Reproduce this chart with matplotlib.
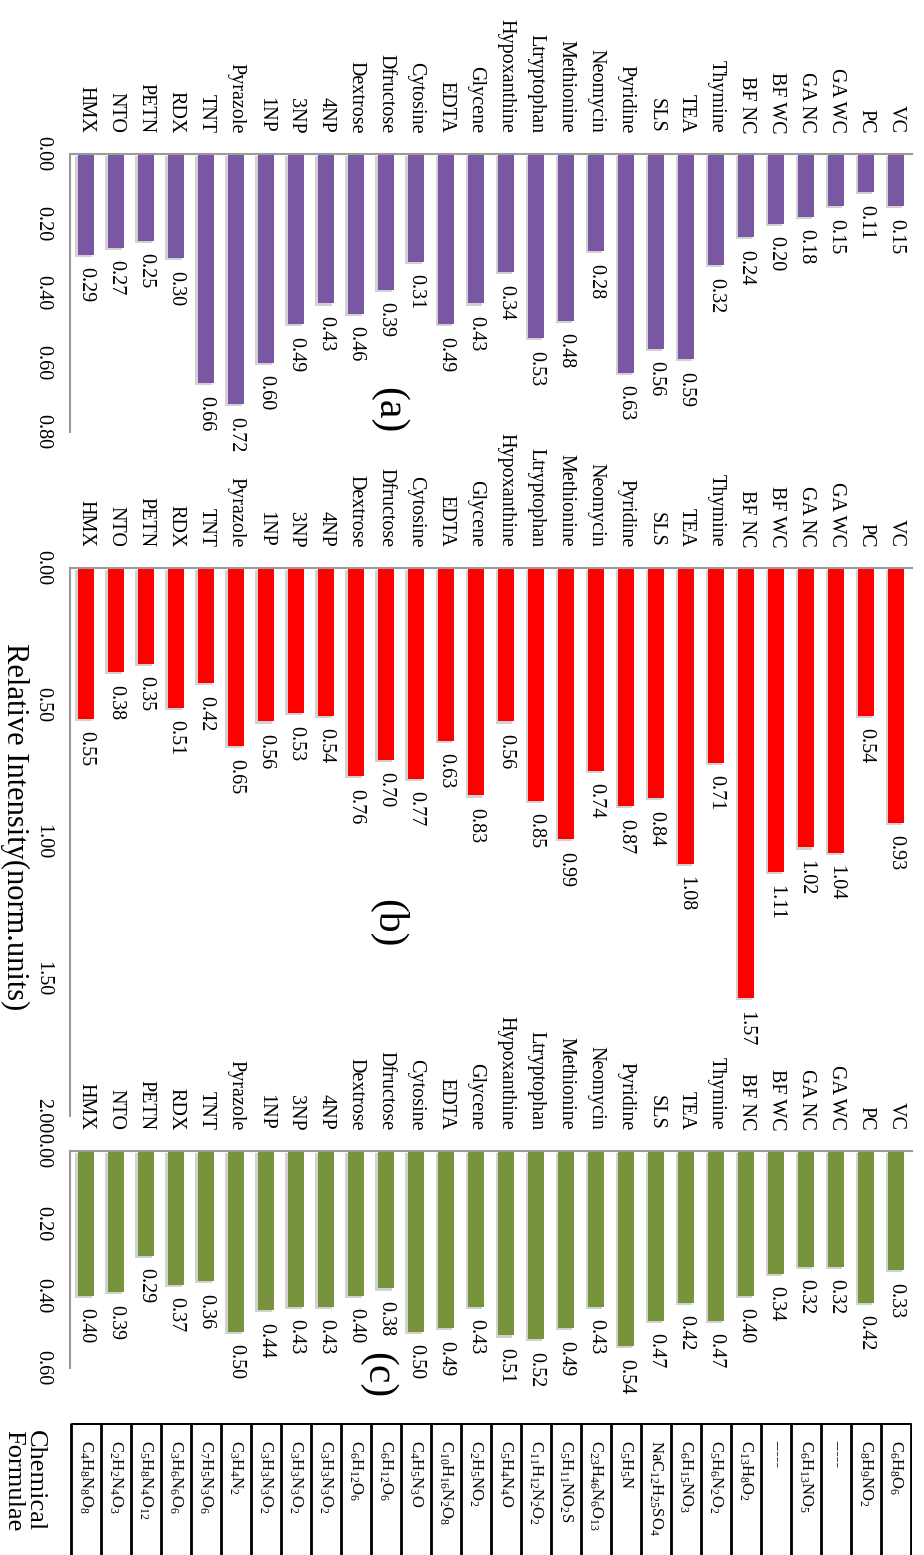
import matplotlib.pyplot as plt
import matplotlib.patheffects as pe

plt.rcParams["font.family"] = ["Liberation Serif", "DejaVu Serif"]
plt.rcParams["mathtext.fontset"] = "custom"
plt.rcParams["mathtext.rm"] = "Liberation Serif"
plt.rcParams["mathtext.it"] = "Liberation Serif:italic"
plt.rcParams["mathtext.bf"] = "Liberation Serif:bold"

# listed from the first row of the chart (VC) to the last (HMX)
compounds = [
    "VC", "PC", "GA WC", "GA NC", "BF WC", "BF NC", "Thymine", "TEA", "SLS",
    "Pyridine", "Neomycin", "Methionine", "Ltryptophan", "Hypoxanthine",
    "Glycene", "EDTA", "Cytosine", "Dfructose", "Dextrose", "4NP", "3NP",
    "1NP", "Pyrazole", "TNT", "RDX", "PETN", "NTO", "HMX",
]
values_a = [
    0.15, 0.11, 0.15, 0.18, 0.20, 0.24, 0.32, 0.59, 0.56, 0.63, 0.28, 0.48,
    0.53, 0.34, 0.43, 0.49, 0.31, 0.39, 0.46, 0.43, 0.49, 0.60, 0.72, 0.66,
    0.30, 0.25, 0.27, 0.29,
]
values_b = [
    0.93, 0.54, 1.04, 1.02, 1.11, 1.57, 0.71, 1.08, 0.84, 0.87, 0.74, 0.99,
    0.85, 0.56, 0.83, 0.63, 0.77, 0.70, 0.76, 0.54, 0.53, 0.56, 0.65, 0.42,
    0.51, 0.35, 0.38, 0.55,
]
values_c = [
    0.33, 0.42, 0.32, 0.32, 0.34, 0.40, 0.47, 0.42, 0.47, 0.54, 0.43, 0.49,
    0.52, 0.51, 0.43, 0.49, 0.50, 0.38, 0.40, 0.43, 0.43, 0.44, 0.50, 0.36,
    0.37, 0.29, 0.39, 0.40,
]
formulae = [
    r"C$_6$H$_8$O$_6$", r"C$_8$H$_9$NO$_2$", "-----", r"C$_6$H$_{13}$NO$_5$",
    "-----", r"C$_{13}$H$_8$O$_2$", r"C$_5$H$_6$N$_2$O$_2$",
    r"C$_6$H$_{15}$NO$_3$", r"NaC$_{12}$H$_{25}$SO$_4$", r"C$_5$H$_5$N",
    r"C$_{23}$H$_{46}$N$_6$O$_{13}$", r"C$_5$H$_{11}$NO$_2$S",
    r"C$_{11}$H$_{12}$N$_2$O$_2$", r"C$_5$H$_4$N$_4$O", r"C$_2$H$_5$NO$_2$",
    r"C$_{10}$H$_{16}$N$_2$O$_8$", r"C$_4$H$_5$N$_3$O", r"C$_6$H$_{12}$O$_6$",
    r"C$_6$H$_{12}$O$_6$", r"C$_3$H$_3$N$_3$O$_2$", r"C$_3$H$_3$N$_3$O$_2$",
    r"C$_3$H$_3$N$_3$O$_2$", r"C$_3$H$_4$N$_2$", r"C$_7$H$_5$N$_3$O$_6$",
    r"C$_3$H$_6$N$_6$O$_6$", r"C$_5$H$_8$N$_4$O$_{12}$", r"C$_2$H$_2$N$_4$O$_3$",
    r"C$_4$H$_8$N$_8$O$_8$",
]
ticks_a = [0.0, 0.2, 0.4, 0.6, 0.8]
ticks_b = [0.0, 0.5, 1.0, 1.5, 2.0]
ticks_c = [0.0, 0.2, 0.4, 0.6]

W, H = 924, 1555
fig = plt.figure(figsize=(W / 100, H / 100), dpi=100)

n = len(compounds)
xpos = [n - 1 - i for i in range(n)]  # VC on the right, HMX on the left
XLIM = (-0.53, n - 0.47)
AXIS_GRAY = "#9a9a9a"


def box(left, top, right, bottom):
    """Pixel box (from the top-left corner) to a figure rect."""
    return [left / W, 1 - bottom / H, (right - left) / W, (bottom - top) / H]


def bar_panel(rect, vals, color, ticks):
    ax = fig.add_axes(rect)
    bars = ax.bar(xpos, vals, width=0.56, color=color, zorder=2)
    for b in bars:
        b.set_path_effects([
            pe.SimplePatchShadow(offset=(-1.5, -1.5), shadow_rgbFace="0.5", alpha=0.35),
            pe.Normal(),
        ])
    ax.set_xlim(*XLIM)
    ax.set_ylim(ticks[-1], 0)

    ax.xaxis.tick_top()
    ax.set_xticks(xpos)
    ax.set_xticklabels(compounds, rotation=-90, ha="center", va="bottom")
    ax.tick_params(axis="x", length=0, pad=15, labelsize=14.5)

    ax.set_yticks(ticks)
    ax.set_yticklabels([f"{t:.2f}" for t in ticks], rotation=-90, ha="right", va="center")
    ax.tick_params(axis="y", length=0, pad=13, labelsize=14.5)

    for s in ("right", "bottom"):
        ax.spines[s].set_visible(False)
    for s in ("top", "left"):
        ax.spines[s].set_color(AXIS_GRAY)
        ax.spines[s].set_linewidth(1.5)
    ax.patch.set_visible(False)

    for x, v in zip(xpos, vals):
        ax.annotate(f"{v:.2f}", (x, v), xytext=(0, -9), textcoords="offset points",
                    rotation=-90, ha="center", va="top", fontsize=14.5)
    return ax


bar_panel(box(70, 154, 912, 432), values_a, "#7a57a2", ticks_a)
bar_panel(box(70, 568, 912, 1116), values_b, "#ff0000", ticks_b)
bar_panel(box(70, 1151, 912, 1368), values_c, "#77933c", ticks_c)

# table of chemical formulae
tab = fig.add_axes(box(70, 1423, 912, 1555))
tab.set_xlim(*XLIM)
tab.set_ylim(0, 1)
tab.axis("off")
edges = [k - 0.5 for k in range(n + 1)]
tab.vlines(edges, 0, 1, color="black", lw=2)
tab.hlines(1, edges[0], edges[-1], color="black", lw=2.2)
for x, f in zip(xpos, formulae):
    tab.text(x, 0.87, f, rotation=-90, ha="center", va="top", fontsize=12)

fig.text(24 / W, 1 - 1430 / H, "Chemical\nFormulae", rotation=-90,
         ha="center", va="top", fontsize=19, linespacing=1.0)

# panel tags and common axis label
fig.text(388 / W, 1 - 410 / H, "(a)", rotation=-90, ha="center", va="center", fontsize=30)
fig.text(388 / W, 1 - 923 / H, "(b)", rotation=-90, ha="center", va="center", fontsize=30)
fig.text(377 / W, 1 - 1375 / H, "(c)", rotation=-90, ha="center", va="center", fontsize=30)
fig.text(15 / W, 1 - 827 / H, "Relative Intensity(norm.units)", rotation=-90,
         ha="center", va="center", fontsize=22)

fig.savefig("out.png", dpi=100)
